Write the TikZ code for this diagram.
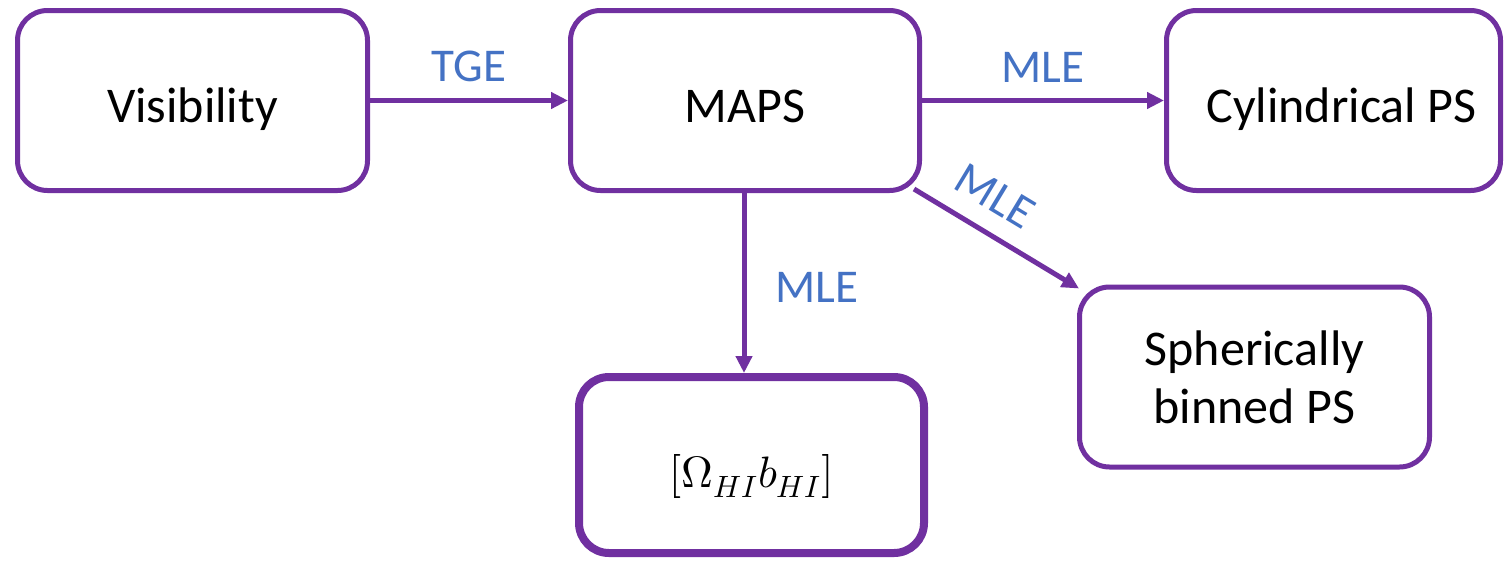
\documentclass[tikz,border=0pt]{standalone}
\usepackage{fontspec}
\usepackage{unicode-math}
\setmainfont{Carlito}
\usetikzlibrary{arrows.meta,calc}
\definecolor{boxpurple}{RGB}{112,48,160}
\definecolor{lblblue}{RGB}{68,114,196}
\tikzset{
  procbox/.style={draw=boxpurple, line width=5pt, rounded corners=30pt, fill=white,
    inner sep=0pt, align=center, font=\fontsize{50}{58}\selectfont},
  oneline/.style={text height=44pt, text depth=0pt},
  thickbox/.style={procbox, line width=8pt},
  flow/.style={draw=boxpurple, line width=5pt, -{Triangle[length=17pt,width=16pt]}},
  lbl/.style={text=lblblue, inner sep=0pt, font=\fontsize{47}{56}\selectfont}
}
\begin{document}
\begin{tikzpicture}[x=1pt,y=-1pt]
\useasboundingbox (0,0) rectangle (1504,560);
\fill[white] (0,0) rectangle (1504,560);
\node[procbox, oneline, minimum width=350pt, minimum height=180pt] (vis) at (192.5,100.5) {Visibility};
\node[procbox, oneline, minimum width=349pt, minimum height=180pt] (maps) at (745,100.5) {MAPS};
\node[procbox, oneline, minimum width=334pt, minimum height=180pt] (cyl) at (1333.5,100.5) {\hspace*{16pt}Cylindrical PS};
\node[procbox, minimum width=350pt, minimum height=180pt] (sph) at (1254.5,377) {Spherically\\binned PS};
\node[thickbox, minimum width=345pt, minimum height=176pt, font=\fontsize{44}{52}\selectfont,
  text height=55pt, text depth=11pt] (omega) at (751.5,465) {$[\Omega_{HI}b_{HI}]$};
\draw[flow] (vis.east) -- node[lbl, midway, above=16pt] {TGE} (maps.west);
\draw[flow] (maps.east) -- node[lbl, midway, above=16pt] {MLE} (cyl.west);
\coordinate (vstart) at ($(maps.south)+(-1,0)$);
\draw[flow] (vstart) -- node[lbl, midway, xshift=73pt, yshift=-4pt] {MLE} (vstart |- omega.north);
\coordinate (dstart) at ($(maps.south east)+(-8,-4)$);
\coordinate (dend) at ($(sph.north west)+(2,4)$);
\draw[flow] (dstart) -- node[lbl, pos=0.38, sloped, above=18pt] {MLE} (dend);
\end{tikzpicture}
\end{document}
